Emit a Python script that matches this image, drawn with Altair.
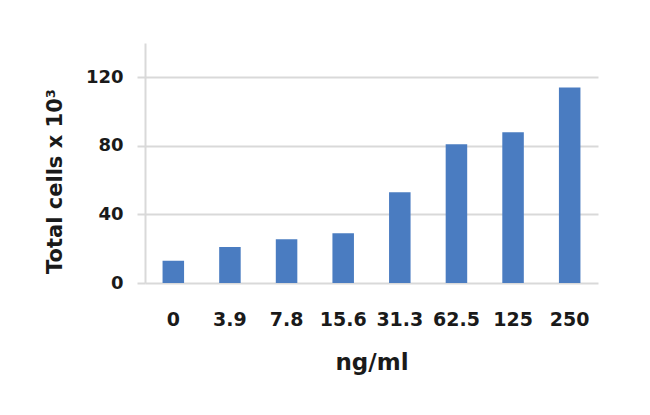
import altair as alt
import pandas as pd

categories = ["0", "3.9", "7.8", "15.6", "31.3", "62.5", "125", "250"]
values = [13, 21, 25.5, 29, 53, 81, 88, 114]

df = pd.DataFrame({"conc": categories, "cells": values})

FONT = "DejaVu Sans"
GRID = "#d9d9d9"
TXT = "#1a1a1a"

chart = alt.Chart(df).mark_bar(color="#4a7cc1").encode(
    x=alt.X(
        "conc:N",
        sort=categories,
        title="ng/ml",
        scale=alt.Scale(paddingInner=0.62, paddingOuter=0.31),
        axis=alt.Axis(
            labelAngle=0,
            labelFont=FONT,
            labelFontWeight="bold",
            labelFontSize=19,
            labelColor=TXT,
            labelPadding=27,
            ticks=False,
            domain=False,
            titleFont=FONT,
            titleFontWeight="bold",
            titleFontSize=23,
            titleColor=TXT,
            titlePadding=22,
        ),
    ),
    y=alt.Y(
        "cells:Q",
        title="Total cells x 10³",
        scale=alt.Scale(domain=[0, 140], nice=False),
        axis=alt.Axis(
            values=[0, 40, 80, 120],
            labelFont=FONT,
            labelFontWeight="bold",
            labelFontSize=18,
            labelColor=TXT,
            labelPadding=14,
            tickSize=8,
            tickColor=GRID,
            tickWidth=2,
            gridColor=GRID,
            gridWidth=2,
            domainColor=GRID,
            domainWidth=2,
            titleFont=FONT,
            titleFontWeight="bold",
            titleFontSize=21,
            titleColor=TXT,
            titleY=138,
            titleX=-90,
            titleBaseline="middle",
            titleAngle=270,
        ),
    ),
).properties(
    width=453,
    height=240,
    autosize=alt.AutoSizeParams(type="none"),
    padding={"left": 137, "top": 35, "right": 44, "bottom": 124},
).configure_view(stroke=None)

chart.save("out.html", embed_options={"renderer": "svg", "actions": False})
